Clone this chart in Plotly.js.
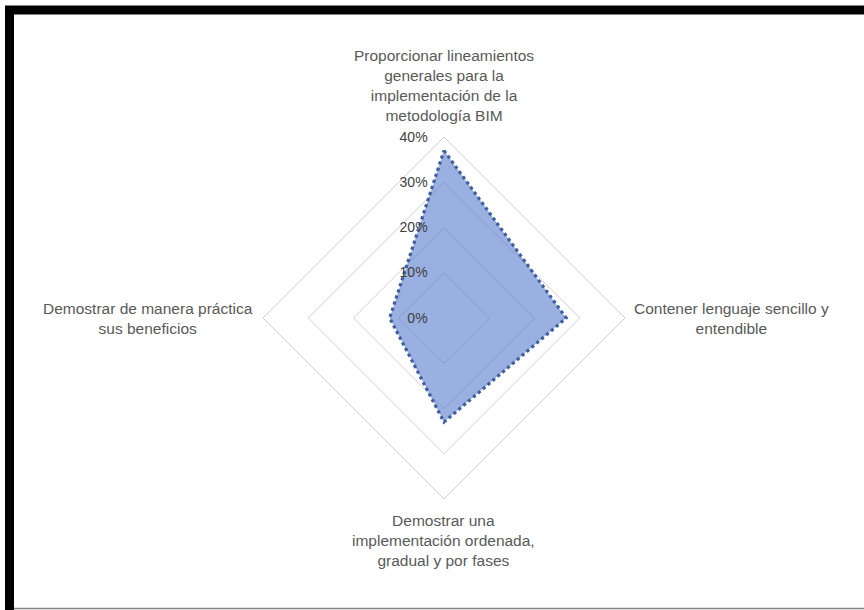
<!DOCTYPE html>
<html>
<head>
<meta charset="utf-8">
<script src="https://cdn.plot.ly/plotly-3.0.1.min.js"></script>
<style>html,body{margin:0;padding:0;background:#fff;}</style>
</head>
<body>
<div id="chart" style="width:864px;height:610px;"></div>
<script>
// Data
const categories = [
  "Proporcionar lineamientos<br>generales para la<br>implementación de la<br>metodología BIM",
  "Contener lenguaje sencillo y<br>entendible",
  "Demostrar una<br>implementación ordenada,<br>gradual y por fases",
  "Demostrar de manera práctica<br>sus beneficios"
];
const values = [0.37, 0.27, 0.23, 0.12];
const radialTicks = [0, 0.1, 0.2, 0.3, 0.4];
const radialTickText = ["0%", "10%", "20%", "30%", "40%"];

const W = 864, H = 610;
const px = x => x / W;
const py = y => 1 - y / H;

const theta = categories.map((c, i) => "c" + i);

const trace = {
  type: "scatterpolar",
  r: values.concat([values[0]]),
  theta: theta.concat([theta[0]]),
  mode: "lines",
  fill: "toself",
  fillcolor: "rgba(87,123,203,0.6)",
  line: { color: "rgb(62,94,160)", width: 3.2, dash: "dot" },
  hoverinfo: "skip",
  showlegend: false
};

const labelFont = { family: "Liberation Sans, Arial, sans-serif", size: 15.5, color: "#595959" };

const annotations = [
  { text: categories[0], x: px(444), y: py(85), xanchor: "center", yanchor: "middle" },
  { text: categories[1], x: px(632), y: py(318.5), xanchor: "left", yanchor: "middle" },
  { text: categories[2], x: px(444), y: py(540.5), xanchor: "center", yanchor: "middle" },
  { text: categories[3], x: px(255), y: py(318.5), xanchor: "right", yanchor: "middle" }
].map(a => Object.assign({ xref: "paper", yref: "paper", showarrow: false, align: "center", font: labelFont }, a));

const layout = {
  width: W, height: H,
  margin: { l: 0, r: 0, t: 0, b: 0, pad: 0 },
  paper_bgcolor: "#ffffff",
  showlegend: false,
  polar: {
    domain: { x: [px(263), px(625)], y: [py(499), py(137)] },
    bgcolor: "rgba(0,0,0,0)",
    gridshape: "linear",
    angularaxis: {
      type: "category",
      categoryarray: theta,
      direction: "clockwise",
      rotation: 90,
      showgrid: false,
      showline: true,
      linecolor: "#cfcfcf",
      linewidth: 1,
      showticklabels: false,
      ticks: ""
    },
    radialaxis: {
      range: [0, 0.4],
      angle: 90,
      side: "counterclockwise",
      tickangle: 90,
      tickvals: radialTicks,
      ticktext: radialTickText,
      tickfont: { family: "Liberation Sans, Arial, sans-serif", size: 14, color: "#404040" },
      ticks: "outside",
      ticklen: 11,
      tickcolor: "rgba(0,0,0,0)",
      showline: false,
      showgrid: true,
      gridcolor: "#cfcfcf",
      gridwidth: 1,
      layer: "above traces"
    }
  },
  annotations: annotations,
  shapes: [
    { type: "rect", xref: "paper", yref: "paper",
      x0: px(9.5), x1: px(900), y0: py(10), y1: py(700),
      line: { color: "#000000", width: 9 }, fillcolor: "rgba(0,0,0,0)" },
    { type: "line", xref: "paper", yref: "paper",
      x0: px(14), x1: px(864), y0: py(608.5), y1: py(608.5),
      line: { color: "#808080", width: 1.5 } }
  ]
};

Plotly.newPlot("chart", [trace], layout, { staticPlot: true, displayModeBar: false });
</script>
</body>
</html>
